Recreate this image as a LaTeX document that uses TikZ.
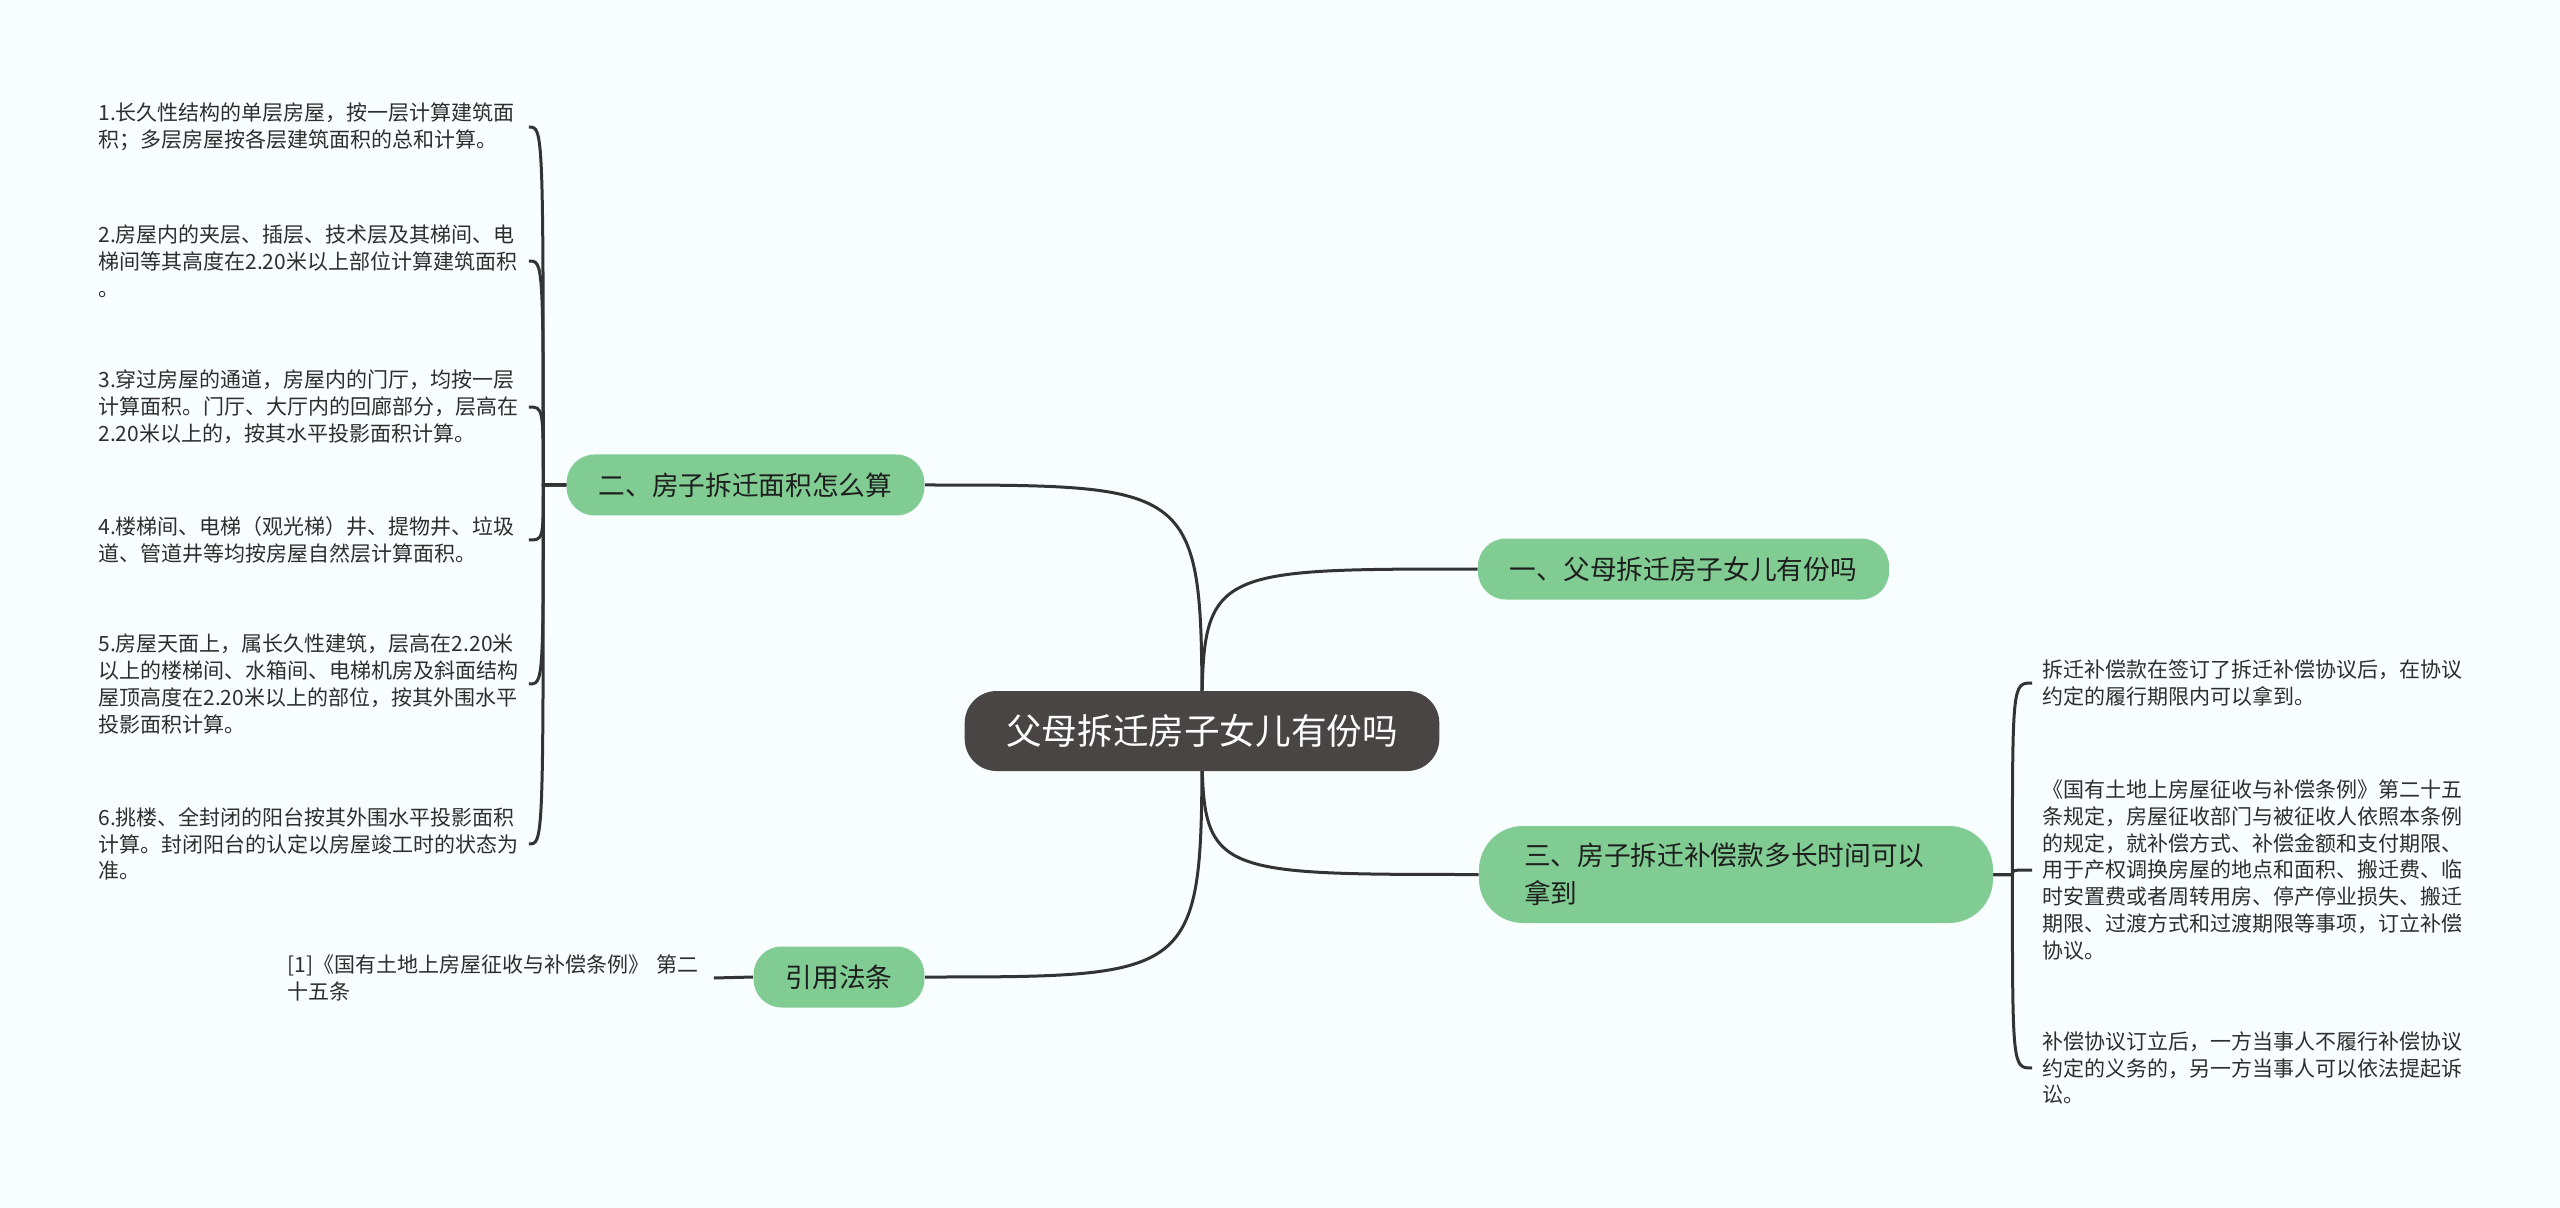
\documentclass[tikz,border=0pt]{standalone}
\usepackage{fontspec}
\setmainfont{Noto Sans CJK SC}
\usetikzlibrary{calc,backgrounds}
\definecolor{mmbg}{HTML}{F8FDFF}
\definecolor{mmgreen}{HTML}{80CC92}
\definecolor{mmdark}{HTML}{4A4545}
\definecolor{mmline}{HTML}{333333}
\definecolor{mmtext}{HTML}{1E1E1E}
\definecolor{mmleaftext}{HTML}{2E2E2E}

\begin{document}
\begin{tikzpicture}[
  x=0.5pt, y=-0.5pt,
  mmroot/.style = {fill=mmdark, text=white, rounded corners=16pt, inner xsep=20.75pt,
    minimum height=40pt, font={\fontsize{17.8pt}{21pt}\selectfont}},
  mmtopic/.style = {fill=mmgreen, text=mmtext, rounded corners=14pt, inner xsep=16pt,
    minimum height=30.5pt, font={\fontsize{13.35pt}{18.75pt}\selectfont}},
  mmleaf/.style = {text=mmleaftext, inner xsep=1pt, align=left, anchor=west,
    font={\fontsize{10.5pt}{13.4pt}\selectfont}},
  mmlink/.style = {line width=1.5pt, draw=mmline}
]
  \useasboundingbox (0,0) rectangle (2560,1208);
  % 中心主题
  \node[mmroot] (root) at (1202,731) {父母拆迁房子女儿有份吗};
  % 分支主题
  \node[mmtopic] (t1) at (1683.5,569) {一、父母拆迁房子女儿有份吗};
  \node[mmtopic] (t2) at (745.5,485) {二、房子拆迁面积怎么算};
  \node[mmtopic, text width=212pt, inner xsep=22.5pt, minimum height=48.5pt,
    rounded corners=22pt, align=left] (t3) at (1736,874.5)
    {三、房子拆迁补偿款多长时间可以\\拿到};
  \node[mmtopic] (t4) at (839,977) {引用法条};
  % 面积怎么算
  \node[mmleaf, text width=214pt] (a1) at (96,127)
    {1.长久性结构的单层房屋，按一层计算建筑面\\积；多层房屋按各层建筑面积的总和计算。};
  \node[mmleaf, text width=214pt] (a2) at (96,261)
    {2.房屋内的夹层、插层、技术层及其梯间、电\\梯间等其高度在2.20米以上部位计算建筑面积\\。};
  \node[mmleaf, text width=214pt] (a3) at (96,407)
    {3.穿过房屋的通道，房屋内的门厅，均按一层\\计算面积。门厅、大厅内的回廊部分，层高在\\2.20米以上的，按其水平投影面积计算。};
  \node[mmleaf, text width=214pt] (a4) at (96,540)
    {4.楼梯间、电梯（观光梯）井、提物井、垃圾\\道、管道井等均按房屋自然层计算面积。};
  \node[mmleaf, text width=214pt] (a5) at (96,684)
    {5.房屋天面上，属长久性建筑，层高在2.20米\\以上的楼梯间、水箱间、电梯机房及斜面结构\\屋顶高度在2.20米以上的部位，按其外围水平\\投影面积计算。};
  \node[mmleaf, text width=214pt] (a6) at (96,844)
    {6.挑楼、全封闭的阳台按其外围水平投影面积\\计算。封闭阳台的认定以房屋竣工时的状态为\\准。};
  % 补偿款
  \node[mmleaf, text width=212pt, inner xsep=5pt] (b1) at (2032,683)
    {拆迁补偿款在签订了拆迁补偿协议后，在协议\\约定的履行期限内可以拿到。};
  \node[mmleaf, text width=212pt, inner xsep=5pt] (b2) at (2032,870)
    {《国有土地上房屋征收与补偿条例》第二十五\\条规定，房屋征收部门与被征收人依照本条例\\的规定，就补偿方式、补偿金额和支付期限、\\用于产权调换房屋的地点和面积、搬迁费、临\\时安置费或者周转用房、停产停业损失、搬迁\\期限、过渡方式和过渡期限等事项，订立补偿\\协议。};
  \node[mmleaf, text width=212pt, inner xsep=5pt] (b3) at (2032,1068)
    {补偿协议订立后，一方当事人不履行补偿协议\\约定的义务的，另一方当事人可以依法提起诉\\讼。};
  % 法条
  \node[mmleaf, text width=212pt] (c1) at (285,978)
    {[1]《国有土地上房屋征收与补偿条例》 第二\\十五条};
  % 连线
  \begin{scope}[on background layer]
    \fill[mmbg] (0,0) rectangle (2560,1208);
    \draw[mmlink] (root.center) .. controls (root.center |- t1.west) .. (t1.west);
    \draw[mmlink] (root.center) .. controls (root.center |- t2.east) .. (t2.east);
    \draw[mmlink] (root.center) .. controls (root.center |- t3.west) .. (t3.west);
    \draw[mmlink] (root.center) .. controls (root.center |- t4.east) .. (t4.east);
    \coordinate (t2j) at ($(t2.west)+(-23,0)$);
    \foreach \i in {1,...,6}
      \draw[mmlink] (t2.west) -- (t2j) .. controls (t2j |- a\i.east) .. (a\i.east);
    \coordinate (t3j) at ($(t3.east)+(19,0)$);
    \foreach \i in {1,2,3}
      \draw[mmlink] (t3.east) -- (t3j) .. controls (t3j |- b\i.west) .. (b\i.west);
    \draw[mmlink] (t4.west) -- (c1.east);
  \end{scope}
\end{tikzpicture}
\end{document}
